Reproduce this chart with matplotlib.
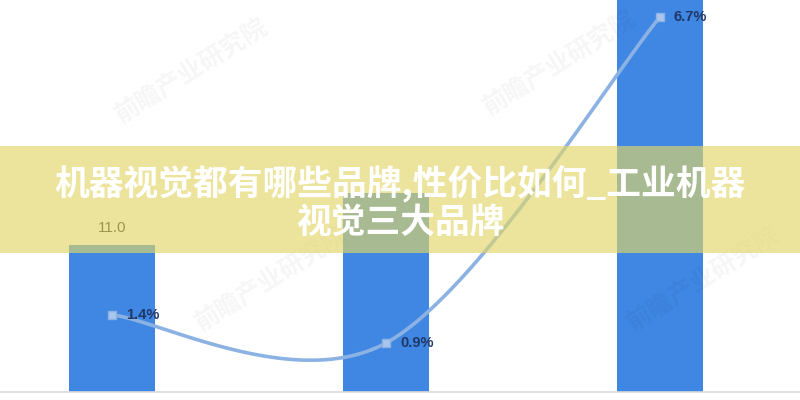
import numpy as np
import matplotlib
matplotlib.use("Agg")
import matplotlib.pyplot as plt
from matplotlib.patches import Rectangle

plt.rcParams['font.family'] = ['Noto Sans CJK SC', 'DejaVu Sans']

# ---- data ----
categories = ["A", "B", "C"]
bar_values = [11.0, 14.9, 34.0]
rate_values = [1.4, 0.9, 6.7]
rate_labels = ["1.4%", "0.9%", "6.7%"]
bar_label_first = "11.0"
title_line1 = "机器视觉都有哪些品牌,性价比如何_工业机器"
title_line2 = "视觉三大品牌"

BAR_COLOR = "#3f87e3"
LINE_COLOR = "#8cb2e4"
LABEL_COLOR = "#1f3766"

fig = plt.figure(figsize=(8, 4), dpi=100)
ax = fig.add_axes([0, 0.02, 1, 0.98])
x = np.arange(len(categories))
ax.bar(x, bar_values, width=0.314, color=BAR_COLOR, zorder=2)
ax.set_xlim(-0.409, 2.511)
ax.set_ylim(0, 29.3)
ax.text(x[0], bar_values[0] + 0.7, bar_label_first, ha="center", va="bottom",
        fontsize=11, color="#222222", family=["Liberation Sans"], zorder=3)
for s in ["top", "left", "right"]:
    ax.spines[s].set_visible(False)
ax.spines["bottom"].set_color("#d9d9d9")
ax.spines["bottom"].set_linewidth(1.2)
ax.set_xticks([])
ax.set_yticks([])

ax2 = ax.twinx()
ax2.set_ylim(0.028, 7.003)
for s in ["top", "left", "right", "bottom"]:
    ax2.spines[s].set_visible(False)
ax2.set_yticks([])

# smoothed line (Catmull-Rom in pixel-proportional space)
sx, sy = 274.0, 56.2
P = np.column_stack([x * sx, np.array(rate_values) * sy])
ext = np.vstack([P[0], P, P[-1]])
pts = []
for i in range(len(P) - 1):
    p0, p1, p2, p3 = ext[i], ext[i + 1], ext[i + 2], ext[i + 3]
    c1 = p1 + (p2 - p0) / 6.0
    c2 = p2 - (p3 - p1) / 6.0
    t = np.linspace(0, 1, 60)[:, None]
    seg = (1 - t) ** 3 * p1 + 3 * (1 - t) ** 2 * t * c1 + 3 * (1 - t) * t ** 2 * c2 + t ** 3 * p2
    pts.append(seg)
curve = np.vstack(pts)
ax2.plot(curve[:, 0] / sx, curve[:, 1] / sy, color=LINE_COLOR, lw=2.6, zorder=3,
         solid_capstyle="round")
ax2.plot(x, rate_values, ls="none", marker="s", ms=6, mfc="#a9c6ec",
         mec=LINE_COLOR, zorder=4)
for xi, v, lab in zip(x, rate_values, rate_labels):
    ax2.annotate(lab, (xi, v), xytext=(10, 0), textcoords="offset points",
                 ha="left", va="center", fontsize=10.5, fontweight="bold",
                 color=LABEL_COLOR, family=["Liberation Sans"], zorder=5)

# faint watermarks
wm = [(0.24, 0.82), (0.70, 0.84), (0.34, 0.30), (0.88, 0.30)]
for (wx, wy) in wm:
    fig.text(wx, wy, "前瞻产业研究院", rotation=32, fontsize=18, color="#000000",
             alpha=0.04, ha="center", va="center", fontweight="bold", zorder=6)

# yellow overlay band
fig.patches.append(Rectangle((0, 1 - 253 / 400), 1, 107 / 400, transform=fig.transFigure,
                             facecolor="#e2d667", alpha=0.65, edgecolor="none", zorder=10))
fig.text(0.5, 1 - 183 / 400, title_line1, ha="center", va="center", fontsize=25,
         fontweight="black", color="white", zorder=11)
fig.text(0.5, 1 - 222 / 400, title_line2, ha="center", va="center", fontsize=25,
         fontweight="black", color="white", zorder=11)

fig.savefig("out.png", dpi=100)
